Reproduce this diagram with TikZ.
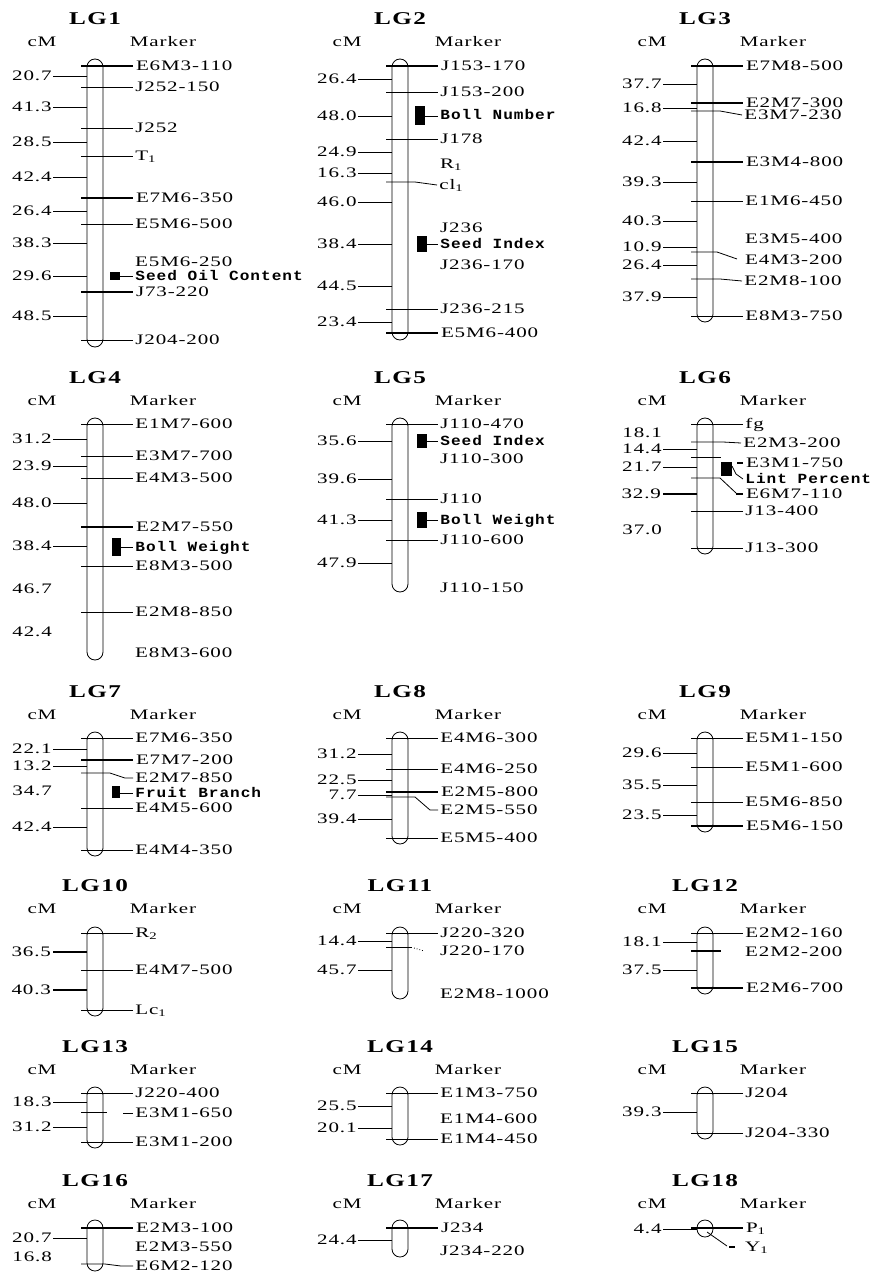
\documentclass[tikz,border=0pt]{standalone}
\usepackage{fontspec}
\usepackage{tikz}
\usetikzlibrary{positioning}
\setmainfont{Liberation Serif}
\newfontfamily\mapfont[FakeStretch=1.45, LetterSpace=6]{Liberation Serif}
\newfontfamily\titlefont[FakeStretch=1.4, LetterSpace=8]{Liberation Serif}
\newfontfamily\qtlfont[FakeStretch=1.15, LetterSpace=7]{Liberation Mono}
\tikzset{
  lg-title/.style={font=\titlefont\bfseries\fontsize{18}{20}\selectfont, inner sep=0pt},
  col-head/.style={font=\mapfont\fontsize{14.5}{16}\selectfont, inner sep=0pt},
  chrom-body/.style={draw, line width=0.8pt, rounded corners=8pt, fill=white},
  marker-line/.style={line width=0.8pt},
  marker-bold/.style={line width=2pt},
  cm-tick/.style={line width=0.8pt},
  cm-bold/.style={line width=2pt},
  marker-label/.style={font=\mapfont\fontsize{14.5}{16}\selectfont, anchor=west,
    inner xsep=2pt, inner ysep=0pt, text height=9.6pt, text depth=0pt},
  cm-label/.style={font=\mapfont\fontsize{14.5}{16}\selectfont, anchor=east,
    inner xsep=1pt, inner ysep=0pt, text height=9.6pt, text depth=0pt},
  qtl-box/.style={fill=black},
  qtl-label/.style={font=\qtlfont\bfseries\fontsize{14}{16}\selectfont, anchor=west,
    inner xsep=2pt, inner ysep=0pt, text height=8pt, text depth=0pt}
}
% title and column heads of one linkage group
\newcommand{\lghead}[3]{%
  \node[lg-title] (#1) at (0,#3) {#2};
  \node[col-head] (#1-cm) at (-53,{#3+23}) {cM};
  \node[col-head] (#1-mk) at (68,{#3+23}) {Marker};
}

\begin{document}
\begin{tikzpicture}[x=1pt, y=-1pt]
\fill[white] (0,0) rectangle (880,1273);
\useasboundingbox (0,0) rectangle (880,1273);

% Row 1
% LG1
\begin{scope}[xshift=95pt]
\lghead{lg1}{LG1}{19}
\draw[chrom-body] (-8,59) rectangle (8,347);
\foreach \pos/\dist in {76/20.7,107/41.3,142/28.5,177/42.4,211/26.4,243/38.3,276/29.6,316/48.5}
  \draw[cm-tick] (-8,\pos) -- (-42,\pos) node[cm-label] (lg1-c\pos) {\dist};
\foreach \pos/\lbl in {87/J252-150,128/J252,156/T\textsubscript{1},224/E5M6-500,340/J204-200}
  \draw[marker-line] (-14,\pos) -- (38,\pos) node[marker-label] (lg1-m\pos) {\lbl};
\foreach \pos/\lbl in {66/E6M3-110,198/E7M6-350,292/J73-220}
  \draw[marker-bold] (-14,\pos) -- (38,\pos) node[marker-label] (lg1-m\pos) {\lbl};
\node[marker-label] (lg1-m262) at (38,262) {E5M6-250};
\fill[qtl-box] (15,272) rectangle (25,280);
\draw[marker-line] (25,276) -- (38,276) node[qtl-label] (lg1-q1) {Seed Oil Content};
\end{scope}

% LG2
\begin{scope}[xshift=400pt]
\lghead{lg2}{LG2}{19}
\draw[chrom-body] (-8,59) rectangle (8,340);
\foreach \pos/\dist in {79/26.4,116/48.0,152/24.9,173/16.3,202/46.0,244/38.4,286/44.5,322/23.4}
  \draw[cm-tick] (-8,\pos) -- (-42,\pos) node[cm-label] (lg2-c\pos) {\dist};
\foreach \pos/\lbl in {92/J153-200,139/J178,309/J236-215}
  \draw[marker-line] (-14,\pos) -- (38,\pos) node[marker-label] (lg2-m\pos) {\lbl};
\foreach \pos/\lbl in {66/J153-170,333/E5M6-400}
  \draw[marker-bold] (-14,\pos) -- (38,\pos) node[marker-label] (lg2-m\pos) {\lbl};
\draw[marker-line] (-14,182) -- (15,182) -- (37,185) node[marker-label] (lg2-m182) {cl\textsubscript{1}};
\foreach \pos/\lbl in {164/R\textsubscript{1},228/J236,265/J236-170}
  \node[marker-label] (lg2-m\pos) at (38,\pos) {\lbl};
\fill[qtl-box] (15,106) rectangle (25,125);
\draw[marker-line] (25,116) -- (38,116) node[qtl-label] (lg2-q1) {Boll Number};
\fill[qtl-box] (17,236) rectangle (27,252);
\draw[marker-line] (27,244) -- (38,244) node[qtl-label] (lg2-q2) {Seed Index};
\end{scope}

% LG3
\begin{scope}[xshift=705pt]
\lghead{lg3}{LG3}{19}
\draw[chrom-body] (-8,59) rectangle (8,322);
\foreach \pos/\dist in {84/37.7,108/16.8,141/42.4,182/39.3,221/40.3,247/10.9,265/26.4,297/37.9}
  \draw[cm-tick] (-8,\pos) -- (-42,\pos) node[cm-label] (lg3-c\pos) {\dist};
\foreach \pos/\lbl in {201/E1M6-450,316/E8M3-750}
  \draw[marker-line] (-14,\pos) -- (38,\pos) node[marker-label] (lg3-m\pos) {\lbl};
\foreach \pos/\lbl in {66/E7M8-500,103/E2M7-300,162/E3M4-800}
  \draw[marker-bold] (-14,\pos) -- (38,\pos) node[marker-label] (lg3-m\pos) {\lbl};
\draw[marker-line] (-14,111) -- (15,111) -- (37,115) node[marker-label] (lg3-m111) {E3M7-230};
\draw[marker-line] (-14,279) -- (15,279) -- (37,281) node[marker-label] (lg3-m279) {E2M8-100};
\draw[marker-line] (-14,252) -- (12,252) -- (32,259);
\node[marker-label] (lg3-m252) at (38,260) {E4M3-200};
\node[marker-label] (lg3-m239) at (38,239) {E3M5-400};
\end{scope}

% Row 2
% LG4
\begin{scope}[xshift=95pt]
\lghead{lg4}{LG4}{378}
\draw[chrom-body] (-8,418) rectangle (8,660);
\foreach \pos/\dist in {439/31.2,466/23.9,503/48.0,546/38.4}
  \draw[cm-tick] (-8,\pos) -- (-42,\pos) node[cm-label] (lg4-c\pos) {\dist};
\foreach \pos/\dist in {589/46.7,632/42.4}
  \node[cm-label] (lg4-c\pos) at (-42,\pos) {\dist};
\foreach \pos/\lbl in {424/E1M7-600,456/E3M7-700,478/E4M3-500,566/E8M3-500,612/E2M8-850}
  \draw[marker-line] (-14,\pos) -- (38,\pos) node[marker-label] (lg4-m\pos) {\lbl};
\draw[marker-bold] (-14,527) -- (38,527) node[marker-label] (lg4-m527) {E2M7-550};
\node[marker-label] (lg4-m653) at (38,653) {E8M3-600};
\fill[qtl-box] (17,538) rectangle (26,556);
\draw[marker-line] (26,547) -- (38,547) node[qtl-label] (lg4-q1) {Boll Weight};
\end{scope}

% LG5
\begin{scope}[xshift=400pt]
\lghead{lg5}{LG5}{378}
\draw[chrom-body] (-8,418) rectangle (8,592);
\foreach \pos/\dist in {441/35.6,479/39.6,520/41.3,563/47.9}
  \draw[cm-tick] (-8,\pos) -- (-42,\pos) node[cm-label] (lg5-c\pos) {\dist};
\foreach \pos/\lbl in {424/J110-470,499/J110,540/J110-600}
  \draw[marker-line] (-14,\pos) -- (38,\pos) node[marker-label] (lg5-m\pos) {\lbl};
\foreach \pos/\lbl in {459/J110-300,588/J110-150}
  \node[marker-label] (lg5-m\pos) at (38,\pos) {\lbl};
\fill[qtl-box] (17,434) rectangle (27,448);
\draw[marker-line] (27,441) -- (38,441) node[qtl-label] (lg5-q1) {Seed Index};
\fill[qtl-box] (17,512) rectangle (27,528);
\draw[marker-line] (27,520) -- (38,520) node[qtl-label] (lg5-q2) {Boll Weight};
\end{scope}

% LG6
\begin{scope}[xshift=705pt]
\lghead{lg6}{LG6}{378}
\draw[chrom-body] (-8,418) rectangle (8,554);
\foreach \pos/\dist in {449/14.4,467/21.7}
  \draw[cm-tick] (-8,\pos) -- (-42,\pos) node[cm-label] (lg6-c\pos) {\dist};
\draw[cm-bold] (-8,494) -- (-42,494) node[cm-label] (lg6-c494) {32.9};
\foreach \pos/\dist in {433/18.1,530/37.0}
  \node[cm-label] (lg6-c\pos) at (-42,\pos) {\dist};
\foreach \pos/\lbl in {424/fg,511/J13-400,548/J13-300}
  \draw[marker-line] (-14,\pos) -- (38,\pos) node[marker-label] (lg6-m\pos) {\lbl};
\draw[marker-line] (-14,442) -- (18,442) -- (36,443) node[marker-label] (lg6-m442) {E2M3-200};
\draw[marker-line] (-14,457) -- (16,457);
\draw[marker-bold] (32,463) -- (38,463) node[marker-label] (lg6-m457) {E3M1-750};
\draw[marker-line] (-14,478) -- (15,478) -- (31,493);
\draw[marker-bold] (31,494) -- (38,494) node[marker-label] (lg6-m478) {E6M7-110};
\fill[qtl-box] (16,462) rectangle (27,476);
\draw[marker-line] (27,466) -- (31,474) -- (38,479) node[qtl-label] (lg6-q1) {Lint Percent};
\end{scope}

% Row 3
% LG7
\begin{scope}[xshift=95pt]
\lghead{lg7}{LG7}{692}
\draw[chrom-body] (-8,732) rectangle (8,856);
\foreach \pos/\dist in {749/22.1,766/13.2,827/42.4}
  \draw[cm-tick] (-8,\pos) -- (-42,\pos) node[cm-label] (lg7-c\pos) {\dist};
\node[cm-label] (lg7-c791) at (-42,791) {34.7};
\foreach \pos/\lbl in {738/E7M6-350,808/E4M5-600,850/E4M4-350}
  \draw[marker-line] (-14,\pos) -- (38,\pos) node[marker-label] (lg7-m\pos) {\lbl};
\draw[marker-bold] (-14,760) -- (38,760) node[marker-label] (lg7-m760) {E7M7-200};
\draw[marker-line] (-14,773) -- (15,773) -- (30,778) -- (38,778) node[marker-label] (lg7-m773) {E2M7-850};
\fill[qtl-box] (17,786) rectangle (25,798);
\draw[marker-line] (25,793) -- (38,793) node[qtl-label] (lg7-q1) {Fruit Branch};
\end{scope}

% LG8
\begin{scope}[xshift=400pt]
\lghead{lg8}{LG8}{692}
\draw[chrom-body] (-8,732) rectangle (8,844);
\foreach \pos/\dist in {754/31.2,780/22.5,795/7.7,819/39.4}
  \draw[cm-tick] (-8,\pos) -- (-42,\pos) node[cm-label] (lg8-c\pos) {\dist};
\foreach \pos/\lbl in {738/E4M6-300,769/E4M6-250,838/E5M5-400}
  \draw[marker-line] (-14,\pos) -- (38,\pos) node[marker-label] (lg8-m\pos) {\lbl};
\draw[marker-bold] (-14,792) -- (38,792) node[marker-label] (lg8-m792) {E2M5-800};
\draw[marker-line] (-14,797) -- (15,797) -- (30,810) -- (38,810) node[marker-label] (lg8-m797) {E2M5-550};
\end{scope}

% LG9
\begin{scope}[xshift=705pt]
\lghead{lg9}{LG9}{692}
\draw[chrom-body] (-8,732) rectangle (8,832);
\foreach \pos/\dist in {753/29.6,785/35.5,815/23.5}
  \draw[cm-tick] (-8,\pos) -- (-42,\pos) node[cm-label] (lg9-c\pos) {\dist};
\foreach \pos/\lbl in {738/E5M1-150,767/E5M1-600,802/E5M6-850}
  \draw[marker-line] (-14,\pos) -- (38,\pos) node[marker-label] (lg9-m\pos) {\lbl};
\draw[marker-bold] (-14,826) -- (38,826) node[marker-label] (lg9-m826) {E5M6-150};
\end{scope}

% Row 4
% LG10
\begin{scope}[xshift=95pt]
\lghead{lg10}{LG10}{886}
\draw[chrom-body] (-8,927) rectangle (8,1016);
\foreach \pos/\dist in {952/36.5,990/40.3}
  \draw[cm-bold] (-8,\pos) -- (-42,\pos) node[cm-label] (lg10-c\pos) {\dist};
\foreach \pos/\lbl in {933/R\textsubscript{2},970/E4M7-500,1010/Lc\textsubscript{1}}
  \draw[marker-line] (-14,\pos) -- (38,\pos) node[marker-label] (lg10-m\pos) {\lbl};
\end{scope}

% LG11
\begin{scope}[xshift=400pt]
\lghead{lg11}{LG11}{886}
\draw[chrom-body] (-8,927) rectangle (8,999);
\foreach \pos/\dist in {941/14.4,970/45.7}
  \draw[cm-tick] (-8,\pos) -- (-42,\pos) node[cm-label] (lg11-c\pos) {\dist};
\draw[marker-line] (-14,933) -- (38,933) node[marker-label] (lg11-m933) {J220-320};
\draw[marker-line] (-14,947) -- (12,947);
\draw[marker-line, dotted] (14,948) -- (24,951);
\node[marker-label] (lg11-m947) at (38,951) {J220-170};
\node[marker-label] (lg11-m994) at (38,994) {E2M8-1000};
\end{scope}

% LG12
\begin{scope}[xshift=705pt]
\lghead{lg12}{LG12}{886}
\draw[chrom-body] (-8,927) rectangle (8,994);
\foreach \pos/\dist in {942/18.1,970/37.5}
  \draw[cm-tick] (-8,\pos) -- (-42,\pos) node[cm-label] (lg12-c\pos) {\dist};
\draw[marker-line] (-14,933) -- (38,933) node[marker-label] (lg12-m933) {E2M2-160};
\draw[marker-bold] (-14,951) -- (16,951);
\node[marker-label] (lg12-m951) at (38,952) {E2M2-200};
\draw[marker-bold] (-14,988) -- (38,988) node[marker-label] (lg12-m988) {E2M6-700};
\end{scope}

% Row 5
% LG13
\begin{scope}[xshift=95pt]
\lghead{lg13}{LG13}{1047}
\draw[chrom-body] (-8,1087) rectangle (8,1148);
\foreach \pos/\dist in {1102/18.3,1127/31.2}
  \draw[cm-tick] (-8,\pos) -- (-42,\pos) node[cm-label] (lg13-c\pos) {\dist};
\foreach \pos/\lbl in {1093/J220-400,1142/E3M1-200}
  \draw[marker-line] (-14,\pos) -- (38,\pos) node[marker-label] (lg13-m\pos) {\lbl};
\draw[marker-line] (-14,1112) -- (12,1112);
\draw[marker-line] (28,1113) -- (38,1113) node[marker-label] (lg13-m1112) {E3M1-650};
\end{scope}

% LG14
\begin{scope}[xshift=400pt]
\lghead{lg14}{LG14}{1047}
\draw[chrom-body] (-8,1087) rectangle (8,1145);
\foreach \pos/\dist in {1106/25.5,1128/20.1}
  \draw[cm-tick] (-8,\pos) -- (-42,\pos) node[cm-label] (lg14-c\pos) {\dist};
\foreach \pos/\lbl in {1093/E1M3-750,1139/E1M4-450}
  \draw[marker-line] (-14,\pos) -- (38,\pos) node[marker-label] (lg14-m\pos) {\lbl};
\node[marker-label] (lg14-m1119) at (38,1119) {E1M4-600};
\end{scope}

% LG15
\begin{scope}[xshift=705pt]
\lghead{lg15}{LG15}{1047}
\draw[chrom-body] (-8,1087) rectangle (8,1139);
\draw[cm-tick] (-8,1112) -- (-42,1112) node[cm-label] (lg15-c1112) {39.3};
\foreach \pos/\lbl in {1093/J204,1133/J204-330}
  \draw[marker-line] (-14,\pos) -- (38,\pos) node[marker-label] (lg15-m\pos) {\lbl};
\end{scope}

% Row 6
% LG16
\begin{scope}[xshift=95pt]
\lghead{lg16}{LG16}{1181}
\draw[chrom-body] (-8,1220) rectangle (8,1271);
\draw[cm-tick] (-8,1238) -- (-42,1238) node[cm-label] (lg16-c1238) {20.7};
\node[cm-label] (lg16-c1257) at (-42,1257) {16.8};
\draw[marker-bold] (-14,1228) -- (38,1228) node[marker-label] (lg16-m1228) {E2M3-100};
\node[marker-label] (lg16-m1248) at (38,1247) {E2M3-550};
\draw[marker-line] (-14,1264) -- (10,1264) -- (26,1266) -- (38,1266) node[marker-label] (lg16-m1264) {E6M2-120};
\end{scope}

% LG17
\begin{scope}[xshift=400pt]
\lghead{lg17}{LG17}{1181}
\draw[chrom-body] (-8,1220) rectangle (8,1257);
\draw[cm-tick] (-8,1240) -- (-42,1240) node[cm-label] (lg17-c1240) {24.4};
\draw[marker-bold] (-14,1228) -- (38,1228) node[marker-label] (lg17-m1228) {J234};
\node[marker-label] (lg17-m1251) at (38,1251) {J234-220};
\end{scope}

% LG18
\begin{scope}[xshift=705pt]
\lghead{lg18}{LG18}{1181}
\draw[chrom-body] (-8,1220) rectangle (8,1237);
\draw[cm-tick] (-8,1229) -- (-42,1229) node[cm-label] (lg18-c1229) {4.4};
\draw[marker-bold] (-14,1228) -- (38,1228) node[marker-label] (lg18-m1228) {P\textsubscript{1}};
\draw[marker-line] (2,1232) -- (22,1246);
\draw[marker-bold] (24,1247) -- (30,1247);
\node[marker-label] (lg18-m1232) at (38,1247) {Y\textsubscript{1}};
\end{scope}
\end{tikzpicture}
\end{document}
